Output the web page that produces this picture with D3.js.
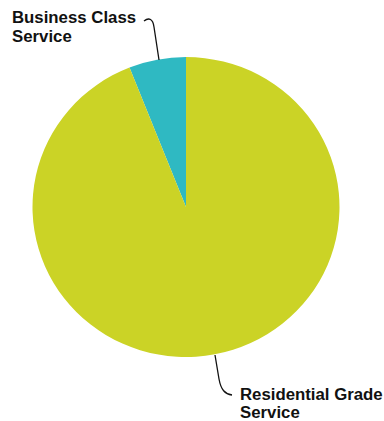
<!DOCTYPE html>
<html>
<head>
<meta charset="utf-8">
<script src="https://cdn.jsdelivr.net/npm/d3@7"></script>
<style>
  html, body { margin: 0; padding: 0; background: #ffffff; }
  svg { display: block; }
  text { font-family: "Liberation Sans", Arial, Helvetica, sans-serif; font-weight: bold; fill: #111; }
</style>
</head>
<body>
<svg id="chart" width="384" height="421"></svg>
<script>
// Share of service by grade (percent)
const categories = ["Business Class Service", "Residential Grade Service"];
const values = [6, 94];
const colors = ["#2fb9c2", "#cbd326"];

const svg = d3.select("#chart");
const cx = 186, cy = 207, rx = 153.5, ry = 150;

const startA = -2 * Math.PI * values[0] / 100;
const pie = d3.pie().sort(null).startAngle(startA).endAngle(startA + 2 * Math.PI);
const arc = d3.arc().innerRadius(0).outerRadius(rx);

const arcs = pie(values);
const g = svg.append("g").attr("transform", `translate(${cx},${cy}) scale(1,${ry / rx})`);
g.selectAll("path.slice")
  .data(arcs)
  .enter().append("path")
  .attr("class", "slice")
  .attr("d", arc)
  .attr("fill", (d, i) => colors[i]);

// Leader lines connecting labels to their slices
const leaders = svg.append("g").attr("fill", "none").attr("stroke", "#111").attr("stroke-width", 1.3);

// Business Class: hook off the label end, down to the slice rim
const pb = d3.path();
pb.moveTo(144, 21);
pb.bezierCurveTo(149, 17, 153, 19, 154, 27);
pb.lineTo(159, 60);
leaders.append("path").attr("d", pb.toString());

// Residential Grade: from the rim at the bottom, down and hooking toward the label
const pr = d3.path();
pr.moveTo(215, 355);
pr.lineTo(219, 379);
pr.bezierCurveTo(221, 390, 225, 394, 232, 395);
leaders.append("path").attr("d", pr.toString());

// Labels (two lines each)
const labelLines = [
  { lines: ["Business Class", "Service"], x: 12, y: 23, dy: 19 },
  { lines: ["Residential Grade", "Service"], x: 240, y: 399.5, dy: 18 }
];
labelLines.forEach(lb => {
  const t = svg.append("text").attr("x", lb.x).attr("y", lb.y).style("font-size", "16.8px");
  lb.lines.forEach((s, j) => {
    t.append("tspan").attr("x", lb.x).attr("dy", j === 0 ? 0 : lb.dy).text(s);
  });
});
</script>
</body>
</html>
